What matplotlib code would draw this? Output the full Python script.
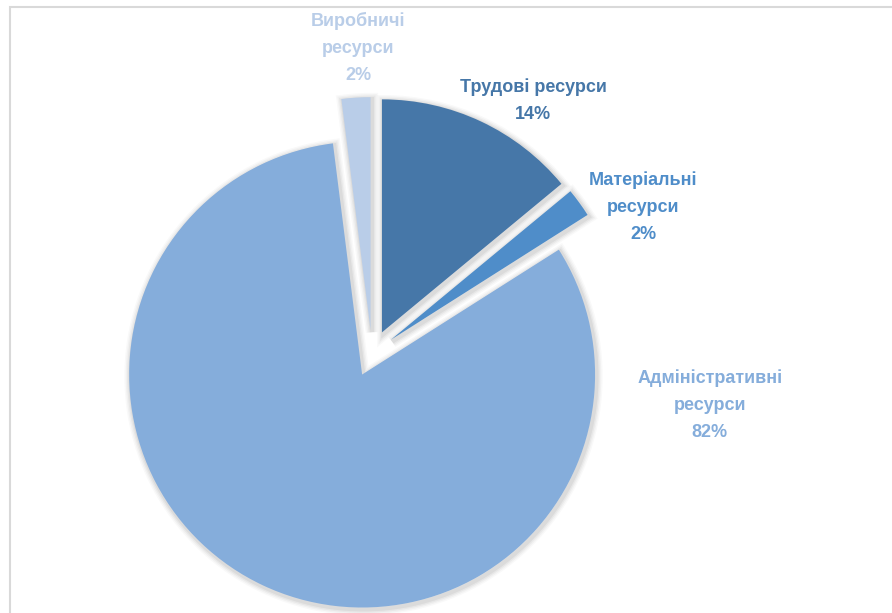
import matplotlib.pyplot as plt
from matplotlib.patches import Wedge, Rectangle

# data
labels = ["Трудові ресурси", "Матеріальні\nресурси", "Адміністративні\nресурси", "Виробничі\nресурси"]
values = [14, 2, 82, 2]
colors = ["#4677A8", "#4F8DC9", "#85ADDB", "#B9CDE8"]
# label spots (data units, pie radius = 1)
label_xy = [(0.691, 1.084), (1.163, 0.627), (1.450, -0.221), (-0.060, 1.311)]

plt.rcParams['font.family'] = ['Liberation Sans', 'DejaVu Sans']

fig = plt.figure(figsize=(8.92, 6.13), dpi=100)
ax = fig.add_axes([0, 0, 1, 1])

wedges, _ = ax.pie(values, colors=colors, startangle=90, counterclock=False,
                   explode=[0.1] * len(values), radius=1,
                   wedgeprops=dict(linewidth=0, zorder=3))
ax.set_aspect("auto")
ax.set_xlim(-1.597, 2.232)
ax.set_ylim(-1.114, 1.517)
ax.axis("off")

# soft shadow around each slice
for w in wedges:
    cx, cy = w.center
    for lw, a in [(9, 0.025), (7, 0.03), (5, 0.04), (3, 0.05)]:
        sh = Wedge((cx + 0.006, cy - 0.008), w.r, w.theta1, w.theta2,
                   facecolor="none", edgecolor="black", linewidth=lw,
                   alpha=a, zorder=2)
        ax.add_patch(sh)

for lab, v, c, (x, y) in zip(labels, values, colors, label_xy):
    ax.text(x, y, "{}\n{}%".format(lab, v), color=c, fontsize=13,
            fontweight="bold", ha="center", va="center", linespacing=1.75)

# chart frame (only top and left edges visible)
fig.add_artist(Rectangle((10 / 892, -0.1), 1.2, 1.1 - 7 / 613,
                         transform=fig.transFigure, fill=False,
                         edgecolor="#D9D9D9", linewidth=1.5))

fig.savefig("out.png", dpi=100)
